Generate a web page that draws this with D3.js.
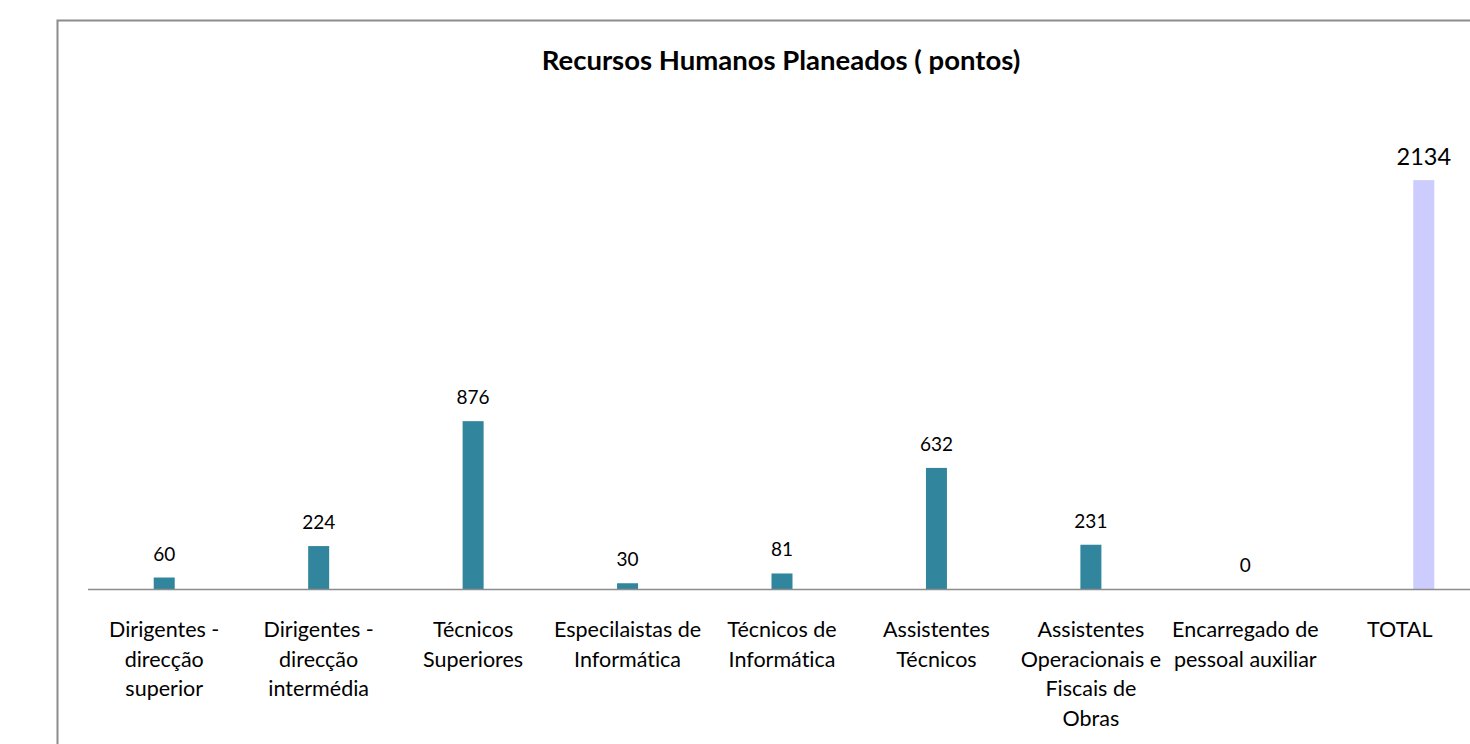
<!DOCTYPE html>
<html>
<head>
<meta charset="utf-8">
<script src="https://cdn.jsdelivr.net/npm/d3@7"></script>
<style>
  html, body { margin: 0; padding: 0; background: #fff; overflow: hidden; }
  text { font-family: Lato, "Open Sans", sans-serif; fill: #000; font-variant-ligatures: none; }
</style>
</head>
<body>
<script>
// categories as they appear on the axis (line breaks kept as in the chart)
const categories = [
  'Dirigentes -\ndirecção\nsuperior',
  'Dirigentes -\ndirecção\nintermédia',
  'Técnicos\nSuperiores',
  'Especilaistas de\nInformática',
  'Técnicos de\nInformática',
  'Assistentes\nTécnicos',
  'Assistentes\nOperacionais e\nFiscais de\nObras',
  'Encarregado de\npessoal auxiliar',
  'TOTAL'
];
const pontos = [60, 224, 876, 30, 81, 632, 231, 0, null];
const total = [null, null, null, null, null, null, null, null, 2134];
const title = 'Recursos Humanos Planeados ( pontos)';

const W = 1470, H = 744;

const svg = d3.select('body').append('svg')
  .attr('width', W)
  .attr('height', H);

// chart frame (right and bottom run off the picture)
svg.append('rect')
  .attr('x', 57.5)
  .attr('y', 20.5)
  .attr('width', 1500)
  .attr('height', 800)
  .attr('fill', 'white')
  .attr('stroke', '#8c8c8c')
  .attr('stroke-width', 2);

svg.append('text')
  .attr('x', 781)
  .attr('y', 70)
  .attr('text-anchor', 'middle')
  .attr('font-size', 27.5)
  .attr('font-weight', 'bold')
  .text(title);

let x = d3.scaleBand()
  .domain(d3.range(categories.length))
  .range([87, 1477]);

let y = d3.scaleLinear()
  .domain([0, 2500])
  .range([589, 110]);

const barW = 21;
const offset = { pontos: 0, total: 24 };

function drawSeries(values, key, color, fontSize, gap) {
  let g = svg.append('g');
  values.forEach(function(v, i) {
    if (v === null) return;
    let cx = x(i) + x.bandwidth() / 2 + offset[key];
    g.append('rect')
      .attr('x', cx - barW / 2)
      .attr('y', y(v))
      .attr('width', barW)
      .attr('height', y(0) - y(v))
      .attr('fill', color);
    g.append('text')
      .attr('x', cx)
      .attr('y', y(v) - gap)
      .attr('text-anchor', 'middle')
      .attr('font-size', fontSize)
      .text(v);
  });
}

drawSeries(pontos, 'pontos', '#31859c', 19, 17);
drawSeries(total, 'total', '#ccccff', 23.5, 15);

// category axis
svg.append('line')
  .attr('x1', 88).attr('x2', W)
  .attr('y1', 589.5).attr('y2', 589.5)
  .attr('stroke', '#8c8c8c')
  .attr('stroke-width', 1.3);

let labels = svg.append('g');
categories.forEach(function(c, i) {
  let t = labels.append('text')
    .attr('text-anchor', 'middle')
    .attr('font-size', 21.5);
  c.split('\n').forEach(function(line, k) {
    t.append('tspan')
      .attr('x', x(i) + x.bandwidth() / 2)
      .attr('y', 637 + k * 29.5)
      .text(line);
  });
});
</script>
</body>
</html>
